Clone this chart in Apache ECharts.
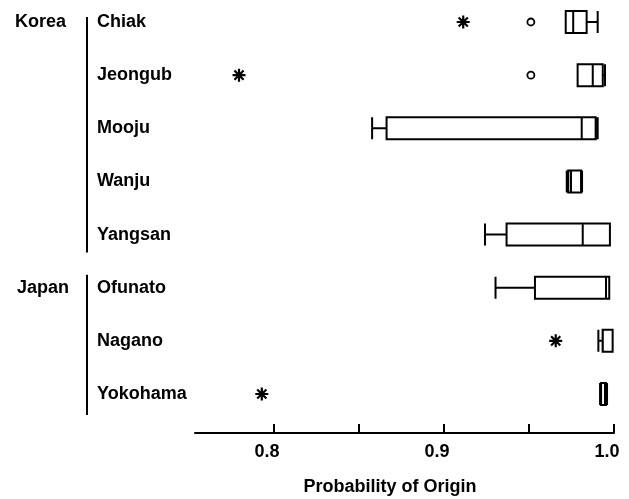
<!DOCTYPE html>
<html>
<head>
<meta charset="utf-8">
<script src="https://cdn.jsdelivr.net/npm/echarts@6/dist/echarts.min.js"></script>
<style>
html,body{margin:0;padding:0;background:#fff;}
#chart{width:629px;height:499px;}
</style>
</head>
<body>
<div id="chart"></div>
<script>
// ---- data ----
const categories = ['Chiak', 'Jeongub', 'Mooju', 'Wanju', 'Yangsan', 'Ofunato', 'Nagano', 'Yokohama'];
const boxMin    = [0.9716, 0.9786, 0.8577, 0.9722, 0.9241, 0.9303, 0.9908, 0.9918];
const boxQ1     = [0.9716, 0.9786, 0.8662, 0.9731, 0.9368, 0.9535, 0.9933, 0.9924];
const boxMedian = [0.9760, 0.9875, 0.9810, 0.9747, 0.9816, 0.9953, 0.9934, 0.9947];
const boxQ3     = [0.9839, 0.9934, 0.9892, 0.9806, 0.9976, 0.9972, 0.9992, 0.9953];
const boxMax    = [0.9904, 0.9947, 0.9904, 0.9812, 0.9976, 0.9972, 0.9992, 0.9959];
const extremeOutliers = [['Chiak', 0.9113], ['Jeongub', 0.7794], ['Nagano', 0.9657], ['Yokohama', 0.7928]];
const mildOutliers = [['Chiak', 0.9511], ['Jeongub', 0.9511]];
const xTickValues = [0.8, 0.85, 0.9, 0.95, 1.0];
const xLabelValues = [0.8, 0.9, 1.0];
const groups = [
  { name: 'Korea', first: 'Chiak', last: 'Yangsan' },
  { name: 'Japan', first: 'Ofunato', last: 'Yokohama' }
];
const xTitle = 'Probability of Origin';

// ---- chart ----
const FONT = "'Liberation Sans', Arial, Helvetica, sans-serif";
const boxData = categories.map((c, i) => [boxMin[i], boxQ1[i], boxMedian[i], boxQ3[i], boxMax[i]]);
const asteriskPath = 'path://M6,0 L6,12 M0,6 L12,6 M1.76,1.76 L10.24,10.24 M1.76,10.24 L10.24,1.76';

const chart = echarts.init(document.getElementById('chart'), null, { renderer: 'canvas' });
const option = {
  animation: false,
  backgroundColor: '#ffffff',
  grid: { left: 195, right: 15, top: 22, bottom: 105, containLabel: false },
  xAxis: {
    type: 'value',
    min: 0.7535,
    max: 1.0,
    offset: 39,
    splitLine: { show: false },
    axisLine: { show: true, lineStyle: { color: '#000', width: 2 } },
    axisTick: { show: true, inside: true, length: 9, customValues: xTickValues, lineStyle: { color: '#000', width: 2 } },
    axisLabel: {
      customValues: xLabelValues,
      formatter: v => v.toFixed(1),
      color: '#000', fontFamily: FONT, fontWeight: 'bold', fontSize: 18, margin: 10,
      padding: [0, 14, 0, 0]
    }
  },
  yAxis: {
    type: 'category',
    data: categories,
    inverse: true,
    boundaryGap: false,
    axisLine: { show: false },
    axisTick: { show: false },
    splitLine: { show: false },
    axisLabel: {
      align: 'left', margin: 98,
      color: '#000', fontFamily: FONT, fontWeight: 'bold', fontSize: 18
    }
  },
  series: [
    {
      type: 'boxplot',
      layout: 'horizontal',
      data: boxData,
      boxWidth: [22, 22],
      itemStyle: { color: '#fff', borderColor: '#000', borderWidth: 2 },
      silent: true
    },
    {
      type: 'scatter',
      data: extremeOutliers.map(d => [d[1], d[0]]),
      symbol: asteriskPath,
      symbolSize: 13,
      itemStyle: { color: 'none', borderColor: '#000', borderWidth: 2.2, opacity: 1 },
      silent: true
    },
    {
      type: 'scatter',
      data: mildOutliers.map(d => [d[1], d[0]]),
      symbol: 'circle',
      symbolSize: 7,
      itemStyle: { color: '#fff', borderColor: '#000', borderWidth: 1.8, opacity: 1 },
      silent: true
    }
  ]
};
chart.setOption(option);

// group brackets and labels, positioned from the category axis
const yPix = c => chart.convertToPixel({ yAxisIndex: 0 }, c);
const graphics = [];
groups.forEach((g, gi) => {
  const y0 = yPix(g.first), y1 = yPix(g.last);
  graphics.push({
    type: 'line',
    shape: { x1: 87, y1: y0 - (gi === 0 ? 5 : 13), x2: 87, y2: y1 + (gi === 0 ? 18 : 21) },
    style: { stroke: '#000', lineWidth: 2 },
    silent: true
  });
  graphics.push({
    type: 'text',
    x: gi === 0 ? 15 : 17,
    y: y0,
    style: { text: g.name, fill: '#000', font: "bold 18px " + FONT, textAlign: 'left', textVerticalAlign: 'middle' },
    silent: true
  });
});
graphics.push({
  type: 'text',
  x: 390,
  y: 487,
  style: { text: xTitle, fill: '#000', font: "bold 18px " + FONT, textAlign: 'center', textVerticalAlign: 'middle' },
  silent: true
});
chart.setOption({ graphic: graphics });
</script>
</body>
</html>
